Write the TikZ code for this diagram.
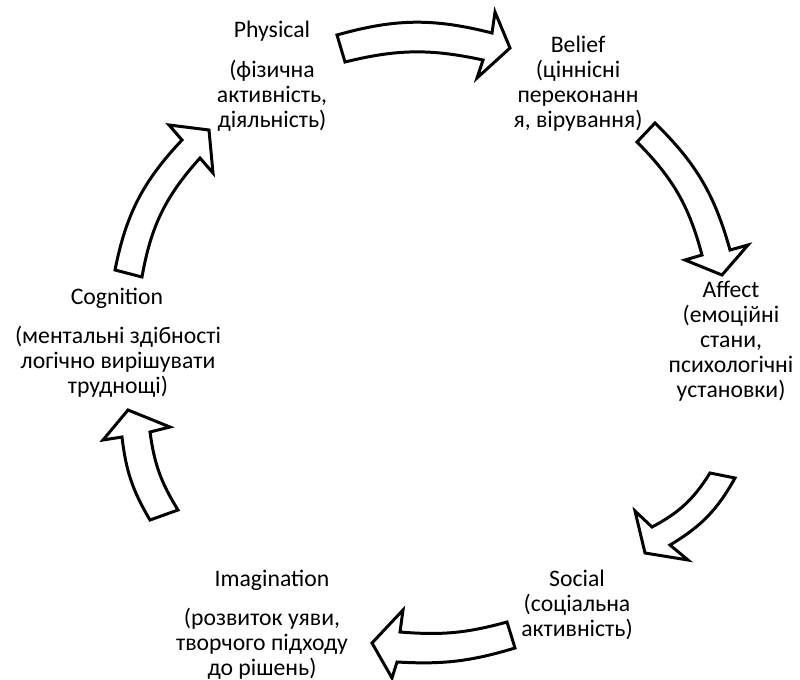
\documentclass[tikz,border=0pt]{standalone}
\usepackage{fontspec}
\setmainfont{Carlito}
\begin{document}
\begin{tikzpicture}[x=0.02cm,y=-0.02cm,
  every node/.style={inner sep=0pt, align=center, font=\fontsize{13.5}{14.2}\selectfont},
  blockarrow/.style={draw=black, fill=white, line width=1.7pt, line join=miter}]
\useasboundingbox (0,0) rectangle (800,679);
\node (physical) at (272,31) {Physical};
\node (physicaltxt) at (272,96) {(фізична\\активність,\\діяльність)};
\node (belief) at (578,84) {Belief\\(ціннісні\\переконанн\\я, вірування)};
\node (affect) at (731,341) {Affect\\(емоційні\\стани,\\психологічні\\установки)};
\node (social) at (577,605) {Social\\(соціальна\\активність)};
\node (imagination) at (272,580) {Imagination};
\node (imaginationtxt) at (262,644) {(розвиток уяви,\\творчого підходу\\до рішень)};
\node (cognition) at (117,298) {Cognition};
\node (cognitiontxt) at (118,362) {(ментальні здібності\\логічно вирішувати\\труднощі)};
\draw[blockarrow] (337,35) to[bend left=15] (492,33) -- (495,12) -- (510,48) -- (477,78) -- (483,60) to[bend right=13] (345,62) -- cycle;
\draw[blockarrow] (655,123) to[bend left=15] (730,250) -- (748,245) -- (722,275) -- (685,260) -- (702,255) to[bend right=15] (637,142) -- cycle;
\draw[blockarrow] (735,478) to[bend left=15] (670,545) -- (688,560) -- (645,553) -- (635,511) -- (652,527) to[bend right=15] (710,473) -- cycle;
\draw[blockarrow] (515,648) to[bend left=10] (397,662) -- (392,678) -- (372,643) -- (403,610) -- (400,632) to[bend right=10] (507,622) -- cycle;
\draw[blockarrow] (150,520) to[bend left=12] (122,437) -- (103,440) -- (128,410) -- (170,427) -- (150,432) to[bend right=12] (178,510) -- cycle;
\draw[blockarrow] (115,270) to[bend left=16] (182,140) -- (169,125) -- (209,130) -- (213,173) -- (200,158) to[bend right=16] (142,277) -- cycle;
\end{tikzpicture}
\end{document}
